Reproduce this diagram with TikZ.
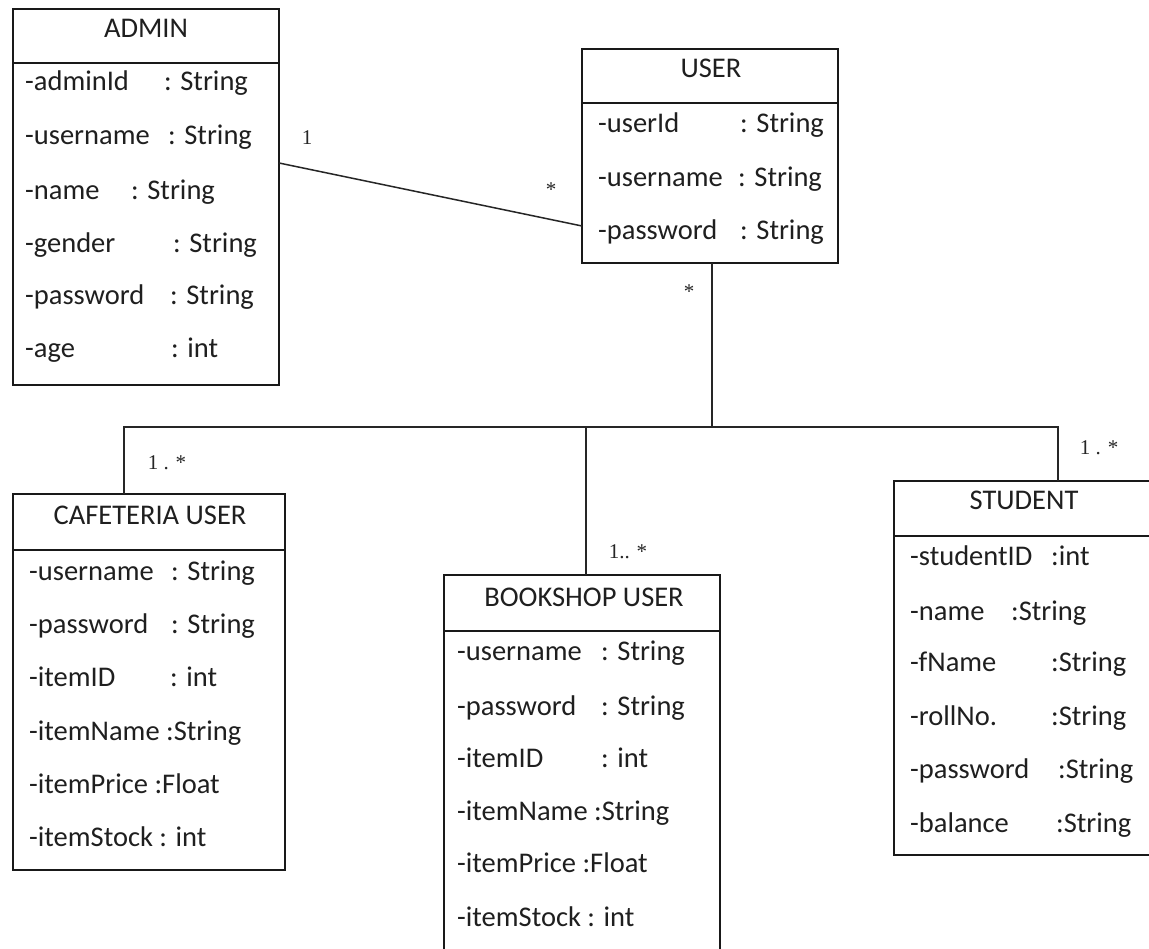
\documentclass[tikz,border=0pt]{standalone}
\usepackage{fontspec}
\setmainfont{Carlito}
\newfontfamily\multfont{Liberation Serif}
\usetikzlibrary{calc}
\newcommand\attr[4]{\node[attrtxt] (#1) at (#2,#3) {#4};}
\begin{document}
\begin{tikzpicture}[x=1pt,y=-1pt,
  classbox/.style={draw=black!90, line width=1.3pt, inner sep=0pt, outer sep=0pt, anchor=north west},
  divider/.style={draw=black!90, line width=1.3pt},
  attrtxt/.style={anchor=base west, inner sep=0pt, text=black!88, font=\fontsize{28.5}{31}\selectfont},
  headtxt/.style={anchor=base, inner sep=0pt, text=black!88, font=\fontsize{28.5}{31}\selectfont},
  mult/.style={inner sep=0pt, text=black!85, font=\multfont\fontsize{21}{23}\selectfont},
  assoc/.style={line width=1.5pt, draw=black!85}]
\fill[white] (0,0) rectangle (1149,949);
\useasboundingbox (0,0) rectangle (1149,949);

% class boxes
\node[classbox, minimum width=266pt, minimum height=376pt] (admin) at (13,9) {};
\node[classbox, minimum width=256pt, minimum height=214pt] (user) at (582,49) {};
\node[classbox, minimum width=272pt, minimum height=376pt] (cafe) at (13,494) {};
\node[classbox, minimum width=276pt, minimum height=378pt] (book) at (444,575) {};
\node[classbox, minimum width=270pt, minimum height=374pt] (student) at (894,481) {};

% dividers
\draw[divider] (admin.west |- 0,63) -- (admin.east |- 0,63);
\draw[divider] (user.west |- 0,103) -- (user.east |- 0,103);
\draw[divider] (cafe.west |- 0,550) -- (cafe.east |- 0,550);
\draw[divider] (book.west |- 0,631) -- (book.east |- 0,631);
\draw[divider] (student.west |- 0,536) -- (student.east |- 0,536);

% headers
\node[headtxt] (adminH) at (146,38) {ADMIN};
\node[headtxt] (userH) at (711,78) {USER};
\node[headtxt] (cafeH) at (150,524) {CAFETERIA USER};
\node[headtxt] (bookH) at (584,606) {BOOKSHOP USER};
\node[headtxt] (studentH) at (1024,509) {STUDENT};

% ADMIN attributes
\attr{a1}{25}{91}{-adminId}   \attr{a1t}{164}{91}{: String}
\attr{a2}{25}{145}{-username} \attr{a2t}{168}{145}{: String}
\attr{a3}{25}{200}{-name}     \attr{a3t}{131}{200}{: String}
\attr{a4}{25}{253}{-gender}   \attr{a4t}{173}{253}{: String}
\attr{a5}{25}{305}{-password} \attr{a5t}{170}{305}{: String}
\attr{a6}{25}{358}{-age}      \attr{a6t}{171}{358}{: int}

% USER attributes
\attr{u1}{598}{133}{-userId}   \attr{u1t}{740}{133}{: String}
\attr{u2}{598}{187}{-username} \attr{u2t}{738}{187}{: String}
\attr{u3}{598}{240}{-password} \attr{u3t}{740}{240}{: String}

% CAFETERIA USER attributes
\attr{c1}{29}{580}{-username} \attr{c1t}{171}{580}{: String}
\attr{c2}{29}{633}{-password} \attr{c2t}{171}{633}{: String}
\attr{c3}{29}{686}{-itemID}   \attr{c3t}{170}{686}{: int}
\attr{c4}{29}{740}{-itemName :String}
\attr{c5}{29}{793}{-itemPrice :Float}
\attr{c6}{29}{846}{-itemStock : int}

% BOOKSHOP USER attributes
\attr{b1}{457}{660}{-username} \attr{b1t}{601}{660}{: String}
\attr{b2}{457}{715}{-password} \attr{b2t}{601}{715}{: String}
\attr{b3}{457}{767}{-itemID}   \attr{b3t}{601}{767}{: int}
\attr{b4}{457}{820}{-itemName :String}
\attr{b5}{457}{872}{-itemPrice :Float}
\attr{b6}{457}{926}{-itemStock : int}

% STUDENT attributes
\attr{s1}{910}{565}{-studentID} \attr{s1t}{1051}{565}{:int}
\attr{s2}{910}{620}{-name}      \attr{s2t}{1011}{620}{:String}
\attr{s3}{910}{671}{-fName}     \attr{s3t}{1051}{671}{:String}
\attr{s4}{910}{725}{-rollNo.}   \attr{s4t}{1051}{725}{:String}
\attr{s5}{910}{778}{-password}  \attr{s5t}{1058}{778}{:String}
\attr{s6}{910}{832}{-balance}   \attr{s6t}{1056}{832}{:String}

% association ADMIN -- USER
\draw[assoc] ($(admin.north east)+(0,154)$) -- ($(user.north west)+(0,177)$);
\node[mult] (m1) at (307,138) {1};
\node[mult] (m2) at (551,190) {*};

% generalisation tree
\coordinate (bus) at (0,427);
\coordinate (uDrop) at ($(user.south)+(2,0)$);
\coordinate (cDrop) at ($(cafe.north west)+(111,0)$);
\coordinate (bDrop) at ($(book.north)+(4,0)$);
\coordinate (sDrop) at ($(student.north west)+(164,0)$);
\draw[assoc] (uDrop) -- (uDrop |- bus);
\draw[assoc] (cDrop) -- (cDrop |- bus) -- (sDrop |- bus) -- (sDrop);
\draw[assoc] (bDrop |- bus) -- (bDrop);

\node[mult] (m3) at (689,292) {*};
\node[mult] (m4) at (167,463) {1 . *};
\node[mult] (m5) at (628,552) {1.. *};
\node[mult] (m6) at (1099,448) {1 . *};
\end{tikzpicture}
\end{document}
